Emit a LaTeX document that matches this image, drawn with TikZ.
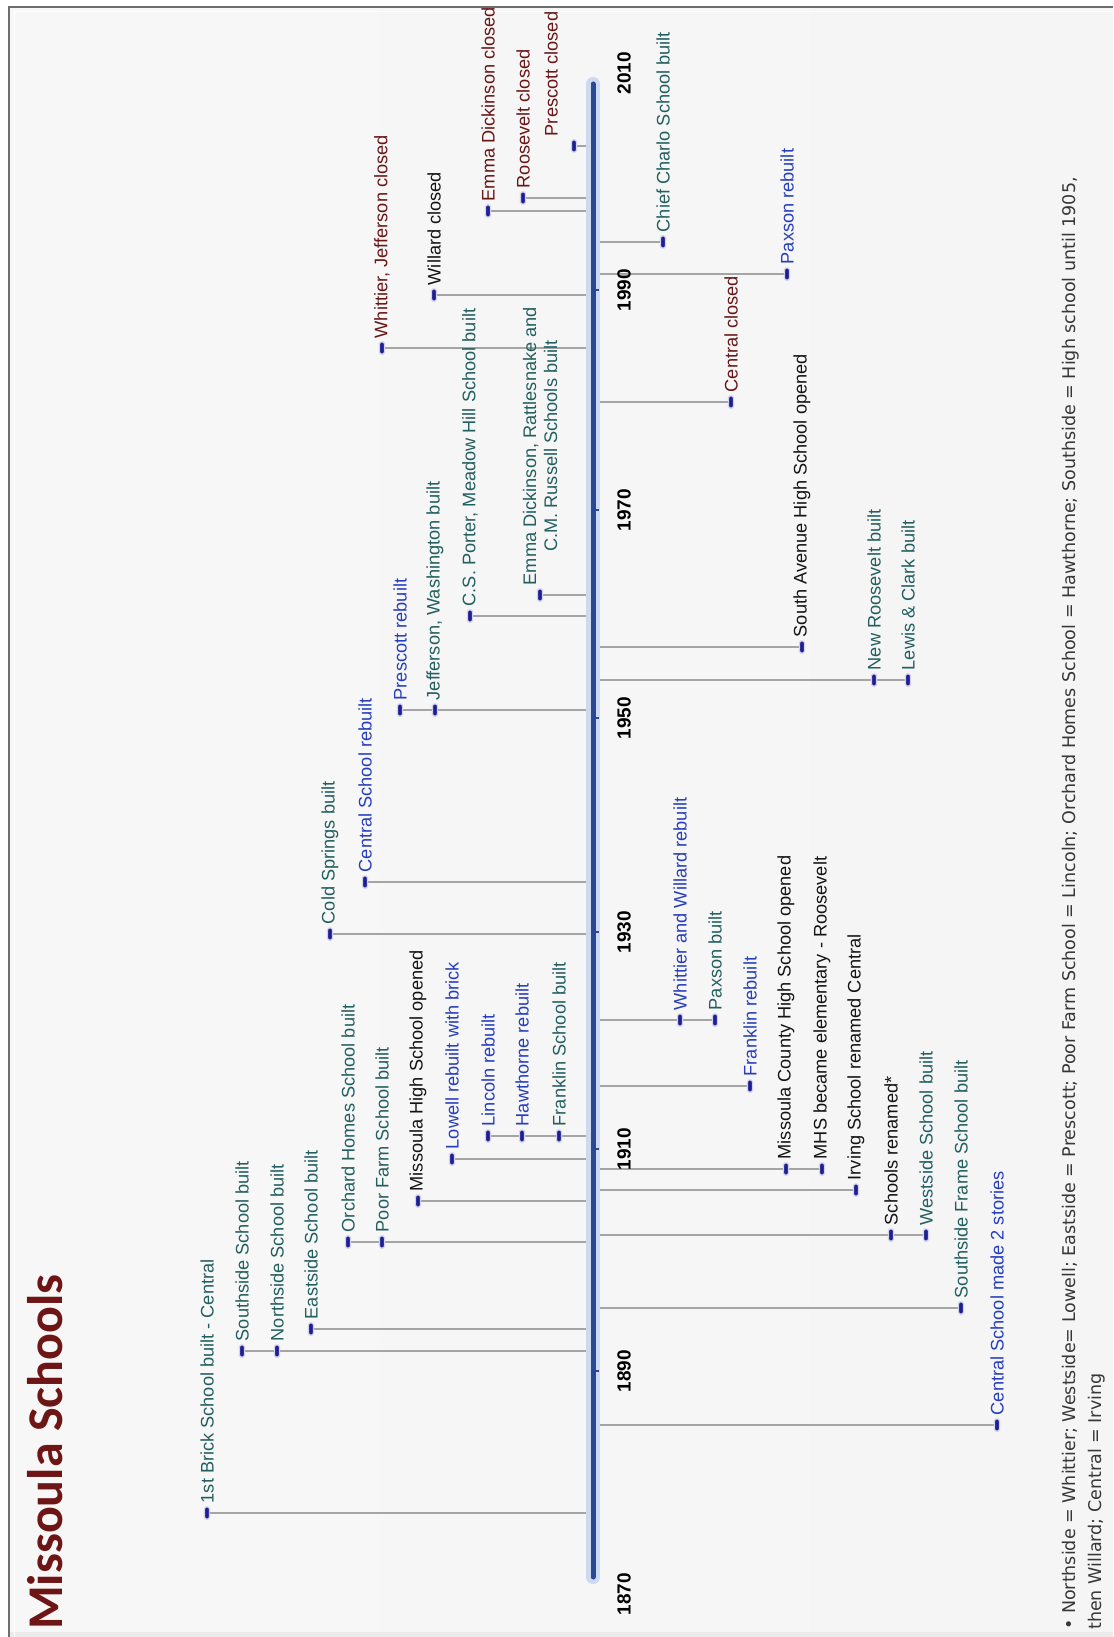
\documentclass[tikz,border=0pt]{standalone}
\usepackage{fontspec}
\setmainfont{Liberation Sans}
\newfontfamily\titlefont{Carlito}
\newfontfamily\notefont{DejaVu Sans}
\usepackage{xcolor}
\usepackage{tikz}
\usetikzlibrary{positioning, calc, backgrounds}
\definecolor{BuiltTeal}{RGB}{35, 95, 95}
\definecolor{RebuiltBlue}{RGB}{38, 62, 190}
\definecolor{ClosedRed}{RGB}{105, 22, 22}
\definecolor{PlainInk}{RGB}{20, 20, 20}
\definecolor{AxisBlue}{RGB}{42, 72, 145}
\definecolor{AxisHalo}{RGB}{205, 217, 240}
\definecolor{DotBlue}{RGB}{30, 30, 150}
\definecolor{LinkGray}{RGB}{165, 165, 165}
\definecolor{FrameGray}{RGB}{110, 110, 110}
\definecolor{NoteGray}{RGB}{55, 55, 55}
\definecolor{TitleRed}{RGB}{110, 22, 22}

\tikzset{
  evdot/.style={rectangle, fill=DotBlue, draw=DotBlue!20, line width=1.2pt,
    rounded corners=1.5pt, minimum width=5pt, minimum height=12pt, inner sep=0pt},
  evlabel/.style={rotate=90, anchor=west, inner sep=3pt,
    font=\fontsize{18.2}{21}\selectfont},
  evBuilt/.style={evlabel, text=BuiltTeal},
  evRebuilt/.style={evlabel, text=RebuiltBlue},
  evClosed/.style={evlabel, text=ClosedRed},
  evPlain/.style={evlabel, text=PlainInk},
  link/.style={draw=LinkGray, line width=1.8pt},
  yearlbl/.style={rotate=90, inner sep=0pt, font=\bfseries\fontsize{19}{21}\selectfont},
  yeartick/.style={draw=AxisBlue, line width=1.5pt}
}

\begin{document}
\begin{tikzpicture}[x=1pt, y=-1pt]
  \useasboundingbox (0,0) rectangle (1113,1637);

  % page, frame
  \begin{scope}[on background layer]
    \shade[left color=white!97!black, middle color=white!89!black, right color=white!96!black]
      (10,8) rectangle (1113,1632);
    \fill[white!92!black] (10,1632) rectangle (1113,1637);
    \draw[FrameGray, line width=2.5pt] (9,1637) -- (9,7) -- (1113,7);
    \draw[white, line width=1pt] (14,1637) -- (14,12) -- (1113,12);
  \end{scope}

  \node[rotate=90, anchor=west, inner sep=0pt, text=TitleRed,
    font=\titlefont\bfseries\fontsize{50}{56}\selectfont] (title) at (45,1630) {Missoula Schools};

  % time axis
  \coordinate (axtop) at (593,84);
  \coordinate (axbot) at (593,1577);
  \draw[AxisHalo, line width=14pt, line cap=round] (axbot) -- (axtop);
  \draw[AxisBlue, line width=5pt, line cap=round] (axbot) -- (axtop);

  \node[yearlbl] (y1870) at (624,1594) {1870};
  \node[yearlbl] (y1890) at (624,1371) {1890};
  \node[yearlbl] (y1910) at (624,1149) {1910};
  \node[yearlbl] (y1930) at (624,932) {1930};
  \node[yearlbl] (y1950) at (624,718) {1950};
  \node[yearlbl] (y1970) at (624,510) {1970};
  \node[yearlbl] (y1990) at (624,290) {1990};
  \node[yearlbl] (y2010) at (624,73) {2010};
  \draw[yeartick] (axtop |- y1890) -- ++(6,0);
  \draw[yeartick] (axtop |- y1910) -- ++(6,0);
  \draw[yeartick] (axtop |- y1930) -- ++(6,0);
  \draw[yeartick] (axtop |- y1950) -- ++(6,0);
  \draw[yeartick] (axtop |- y1970) -- ++(6,0);
  \draw[yeartick] (axtop |- y1990) -- ++(6,0);

  % events left of the axis
  \node[evdot] (mBrick) at (207,1513) {};
  \node[evBuilt] (tBrick) at (mBrick.north) {1st Brick School built - Central};
  \node[evdot] (mSouth) at (242,1351) {};
  \node[evBuilt] (tSouth) at (mSouth.north) {Southside School built};
  \node[evdot] (mNorth) at (277,1351) {};
  \node[evBuilt] (tNorth) at (mNorth.north) {Northside School built};
  \node[evdot] (mEast) at (311,1329) {};
  \node[evBuilt] (tEast) at (mEast.north) {Eastside School built};
  \node[evdot] (mOrchard) at (348,1242) {};
  \node[evBuilt] (tOrchard) at (mOrchard.north) {Orchard Homes School built};
  \node[evdot] (mPoor) at (382,1242) {};
  \node[evBuilt] (tPoor) at (mPoor.north) {Poor Farm School built};
  \node[evdot] (mMHS) at (418,1201) {};
  \node[evPlain] (tMHS) at (mMHS.north) {Missoula High School opened};
  \node[evdot] (mLowell) at (452,1159) {};
  \node[evRebuilt] (tLowell) at (mLowell.north) {Lowell rebuilt with brick};
  \node[evdot] (mLincoln) at (488,1136) {};
  \node[evRebuilt] (tLincoln) at (mLincoln.north) {Lincoln rebuilt};
  \node[evdot] (mHawth) at (522,1136) {};
  \node[evRebuilt] (tHawth) at (mHawth.north) {Hawthorne rebuilt};
  \node[evdot] (mFrank) at (559,1136) {};
  \node[evBuilt] (tFrank) at (mFrank.north) {Franklin School built};
  \node[evdot] (mCold) at (330,934) {};
  \node[evBuilt] (tCold) at (mCold.north) {Cold Springs built};
  \node[evdot] (mCentR) at (365,882) {};
  \node[evRebuilt] (tCentR) at (mCentR.north) {Central School rebuilt};
  \node[evdot] (mPresR) at (400,710) {};
  \node[evRebuilt] (tPresR) at (mPresR.north) {Prescott rebuilt};
  \node[evdot] (mJeff) at (435,710) {};
  \node[evBuilt] (tJeff) at (mJeff.north) {Jefferson, Washington built};
  \node[evdot] (mPorter) at (470,616) {};
  \node[evBuilt] (tPorter) at (mPorter.north) {C.S. Porter, Meadow Hill School built};
  \node[evdot] (mEmma) at (540,595) {};
  \node[evBuilt, align=center] (tEmma) at (mEmma.north) {Emma Dickinson, Rattlesnake and\\C.M. Russell Schools built};
  \node[evdot] (mWhitC) at (382,348) {};
  \node[evClosed] (tWhitC) at (mWhitC.north) {Whittier, Jefferson closed};
  \node[evdot] (mWillC) at (434,295) {};
  \node[evPlain] (tWillC) at (mWillC.north) {Willard closed};
  \node[evdot] (mEmmaC) at (488,211) {};
  \node[evClosed] (tEmmaC) at (mEmmaC.north) {Emma Dickinson closed};
  \node[evdot] (mRoosC) at (523,198) {};
  \node[evClosed] (tRoosC) at (mRoosC.north) {Roosevelt closed};
  \node[evdot] (mPresC) at (574,146) {};
  \node[evClosed] (tPresC) at ([xshift=-23pt]mPresC.north) {Prescott closed};

  % events right of the axis
  \node[evdot] (mWhitR) at (680,1020) {};
  \node[evRebuilt] (tWhitR) at (mWhitR.north) {Whittier and Willard rebuilt};
  \node[evdot] (mPaxB) at (715,1020) {};
  \node[evBuilt] (tPaxB) at (mPaxB.north) {Paxson built};
  \node[evdot] (mFrankR) at (750,1086) {};
  \node[evRebuilt] (tFrankR) at (mFrankR.north) {Franklin rebuilt};
  \node[evdot] (mMCHS) at (786,1169) {};
  \node[evPlain] (tMCHS) at (mMCHS.north) {Missoula County High School opened};
  \node[evdot] (mElem) at (822,1169) {};
  \node[evPlain] (tElem) at (mElem.north) {MHS became elementary - Roosevelt};
  \node[evdot] (mIrving) at (856,1190) {};
  \node[evPlain] (tIrving) at (mIrving.north) {Irving School renamed Central};
  \node[evdot] (mRenam) at (891,1235) {};
  \node[evPlain] (tRenam) at (mRenam.north) {Schools renamed*};
  \node[evdot] (mWest) at (926,1235) {};
  \node[evBuilt] (tWest) at (mWest.north) {Westside School built};
  \node[evdot] (mSouthF) at (961,1308) {};
  \node[evBuilt] (tSouthF) at (mSouthF.north) {Southside Frame School built};
  \node[evdot] (mCent2) at (997,1425) {};
  \node[evRebuilt] (tCent2) at (mCent2.north) {Central School made 2 stories};
  \node[evdot] (mSAHS) at (802,647) {};
  \node[evPlain] (tSAHS) at (mSAHS.north) {South Avenue High School opened};
  \node[evdot] (mRoosN) at (874,680) {};
  \node[evBuilt] (tRoosN) at (mRoosN.north) {New Roosevelt built};
  \node[evdot] (mLewis) at (908,680) {};
  \node[evBuilt] (tLewis) at (mLewis.north) {Lewis \& Clark built};
  \node[evdot] (mCentC) at (731,402) {};
  \node[evClosed] (tCentC) at (mCentC.north) {Central closed};
  \node[evdot] (mCharlo) at (663,242) {};
  \node[evBuilt] (tCharlo) at (mCharlo.north) {Chief Charlo School built};
  \node[evdot] (mPaxR) at (787,274) {};
  \node[evRebuilt] (tPaxR) at (mPaxR.north) {Paxson rebuilt};

  % leader lines from the axis
  \begin{scope}[on background layer]
    \draw[link] (axtop |- mBrick) -- (mBrick);
    \draw[link] (axtop |- mSouth) -- (mSouth);
    \draw[link] (axtop |- mNorth) -- (mNorth);
    \draw[link] (axtop |- mEast) -- (mEast);
    \draw[link] (axtop |- mOrchard) -- (mOrchard);
    \draw[link] (axtop |- mPoor) -- (mPoor);
    \draw[link] (axtop |- mMHS) -- (mMHS);
    \draw[link] (axtop |- mLowell) -- (mLowell);
    \draw[link] (axtop |- mLincoln) -- (mLincoln);
    \draw[link] (axtop |- mHawth) -- (mHawth);
    \draw[link] (axtop |- mFrank) -- (mFrank);
    \draw[link] (axtop |- mCold) -- (mCold);
    \draw[link] (axtop |- mCentR) -- (mCentR);
    \draw[link] (axtop |- mPresR) -- (mPresR);
    \draw[link] (axtop |- mJeff) -- (mJeff);
    \draw[link] (axtop |- mPorter) -- (mPorter);
    \draw[link] (axtop |- mEmma) -- (mEmma);
    \draw[link] (axtop |- mWhitC) -- (mWhitC);
    \draw[link] (axtop |- mWillC) -- (mWillC);
    \draw[link] (axtop |- mEmmaC) -- (mEmmaC);
    \draw[link] (axtop |- mRoosC) -- (mRoosC);
    \draw[link] (axtop |- mPresC) -- (mPresC);
    \draw[link] (axtop |- mWhitR) -- (mWhitR);
    \draw[link] (axtop |- mPaxB) -- (mPaxB);
    \draw[link] (axtop |- mFrankR) -- (mFrankR);
    \draw[link] (axtop |- mMCHS) -- (mMCHS);
    \draw[link] (axtop |- mElem) -- (mElem);
    \draw[link] (axtop |- mIrving) -- (mIrving);
    \draw[link] (axtop |- mRenam) -- (mRenam);
    \draw[link] (axtop |- mWest) -- (mWest);
    \draw[link] (axtop |- mSouthF) -- (mSouthF);
    \draw[link] (axtop |- mCent2) -- (mCent2);
    \draw[link] (axtop |- mSAHS) -- (mSAHS);
    \draw[link] (axtop |- mRoosN) -- (mRoosN);
    \draw[link] (axtop |- mLewis) -- (mLewis);
    \draw[link] (axtop |- mCentC) -- (mCentC);
    \draw[link] (axtop |- mCharlo) -- (mCharlo);
    \draw[link] (axtop |- mPaxR) -- (mPaxR);
  \end{scope}

  % footnote
  \node[rotate=90, anchor=north west, align=left, inner sep=0pt, text=NoteGray,
    font=\notefont\fontsize{17.5}{26}\selectfont] (note) at (1062,1630)
    {\textbullet\ Northside = Whittier; Westside= Lowell; Eastside = Prescott; Poor Farm School = Lincoln; Orchard Homes School = Hawthorne; Southside = High school until 1905,\\
     then Willard; Central = Irving};
\end{tikzpicture}
\end{document}
